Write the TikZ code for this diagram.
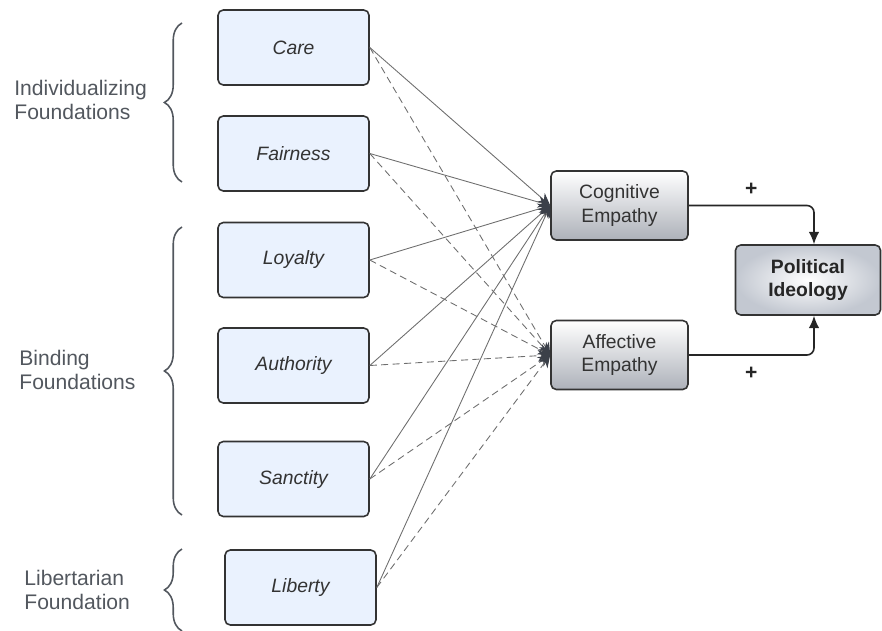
\documentclass[tikz,border=0pt]{standalone}
\usepackage{fontspec}
\setmainfont{Liberation Sans}
\usetikzlibrary{arrows.meta}
\usetikzlibrary{decorations.pathreplacing}
\definecolor{boxfill}{HTML}{EAF2FE}
\definecolor{boxline}{HTML}{333333}
\definecolor{labelgray}{HTML}{52575E}
\definecolor{pathgray}{HTML}{6E6E6E}
\definecolor{headgray}{HTML}{3B4049}
\definecolor{shadegray}{HTML}{ADB1B9}
\definecolor{outcomegray}{HTML}{C3C8D1}
\tikzset{every picture/.style={>=stealth, semithick}}
\tikzset{foundation/.style={draw=boxline, fill=boxfill, rounded corners=3pt,
  line width=0.9pt, minimum width=3.02cm, minimum height=1.5cm,
  font=\fontsize{11}{13}\selectfont\itshape, text=boxline}}
\tikzset{mediator/.style={draw=boxline, top color=white, bottom color=shadegray,
  rounded corners=3pt, line width=0.9pt, minimum width=2.74cm, minimum height=1.38cm,
  align=center, font=\fontsize{11}{13.5}\selectfont, text=boxline}}
\tikzset{outcome/.style={draw=boxline, inner color=white, outer color=outcomegray,
  rounded corners=3pt, line width=0.9pt, minimum width=2.9cm, minimum height=1.4cm,
  align=center, font=\fontsize{11}{13.5}\selectfont\bfseries, text=black!85}}
\tikzset{grouplabel/.style={anchor=west, align=left, text=labelgray,
  font=\fontsize{12}{13.6}\selectfont}}
\tikzset{groupbrace/.style={draw=labelgray, line width=0.9pt,
  decorate, decoration={brace, amplitude=10pt}}}
\tikzset{cogpath/.style={draw=pathgray, line width=0.5pt,
  -{Stealth[length=7pt,width=6.5pt,color=headgray,fill=headgray]}}}
\tikzset{affpath/.style={cogpath, dash pattern=on 4pt off 2.5pt}}
\tikzset{effect/.style={draw=black!85, line width=0.9pt, rounded corners=4pt,
  -{Latex[length=7pt,width=6pt]}}}
\tikzset{sign/.style={text=black!85, font=\fontsize{12}{12}\selectfont\bfseries}}

\begin{document}
\begin{tikzpicture}
	\useasboundingbox (0,0) rectangle (17.64,-12.62);
	% moral foundations
	\node[foundation] (care) at (5.87,-0.95) {Care};
	\node[foundation] (fairness) at (5.87,-3.07) {Fairness};
	\node[foundation] (loyalty) at (5.87,-5.2) {Loyalty};
	\node[foundation] (authority) at (5.87,-7.31) {Authority};
	\node[foundation] (sanctity) at (5.87,-9.58) {Sanctity};
	\node[foundation] (liberty) at (6.01,-11.75) {Liberty};
	% empathy and ideology
	\node[mediator] (cog) at (12.39,-4.11) {Cognitive\\Empathy};
	\node[mediator] (aff) at (12.39,-7.1) {Affective\\Empathy};
	\node[outcome] (ideo) at (16.16,-5.6) {Political\\Ideology};
	% groups
	\node[grouplabel] (indiv) at (0.16,-2.0) {Individualizing\\Foundations};
	\node[grouplabel] (binding) at (0.26,-7.4) {Binding\\Foundations};
	\node[grouplabel] (libert) at (0.36,-11.8) {Libertarian\\Foundation};
	\draw[groupbrace] (3.64,-3.64) -- (3.64,-0.46);
	\draw[groupbrace] (3.64,-10.3) -- (3.64,-4.54);
	\draw[groupbrace] (3.64,-12.62) -- (3.64,-10.98);
	% paths
	\foreach \f in {care,fairness,loyalty,authority,sanctity,liberty}{
		\draw[affpath] (\f.east) -- (aff.west);
		\draw[cogpath] (\f.east) -- (cog.west);
	}
	\draw[effect] (cog.east) -| ([xshift=0.12cm]ideo.north)
		node[pos=0.25,above=2pt,sign] {+};
	\draw[effect] (aff.east) -| ([xshift=0.12cm]ideo.south)
		node[pos=0.25,below=3pt,sign] {+};
\end{tikzpicture}
\end{document}
